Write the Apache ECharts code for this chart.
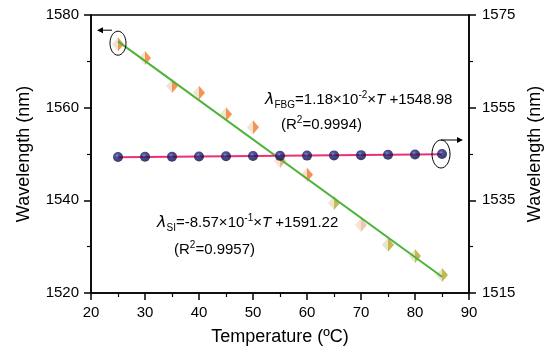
<!DOCTYPE html>
<html>
<head>
<meta charset="utf-8">
<script src="https://cdn.jsdelivr.net/npm/echarts@6/dist/echarts.min.js"></script>
<style>html,body{margin:0;padding:0;background:#fff}#c{width:550px;height:355px}</style>
</head>
<body>
<div id="c"></div>
<script>
// ---- data ----
var temps = [25, 30, 35, 40, 45, 50, 55, 60, 65, 70, 75, 80, 85];
// SI wavelengths (left axis, nm)
var siValues = [1573.7, 1570.7, 1564.7, 1563.2, 1558.6, 1555.8, 1548.5, 1545.5, 1539.4, 1534.7, 1530.4, 1528.0, 1523.9];
// FBG wavelengths (right axis, nm)
var fbgValues = [1544.35, 1544.4, 1544.4, 1544.45, 1544.5, 1544.55, 1544.6, 1544.65, 1544.7, 1544.75, 1544.85, 1544.9, 1545.0];
// fitted lines (endpoints)
var fitTemps = [25, 85];
var siFit = [1574.3, 1523.5];
var fbgFit = [1544.3, 1544.95];
// tick labels
var xTicks = [20, 30, 40, 50, 60, 70, 80, 90];
var leftTicks = [1520, 1540, 1560, 1580];
var rightTicks = [1515, 1535, 1555, 1575];
var rightMinor = [1525, 1545, 1565];

// ---- styles ----
var FONT = 'Liberation Sans, Arial, sans-serif';
var rightColors = ['#f47b28','#f47b28','#f47b28','#f47b28','#f47b28','#f47b28','#eea46a','#f07030','#b8a838','#efb89a','#b5a52c','#b5a52c','#b5a52c'];
var leftColors = ['#eadfc8','#eadfc8','#eadfc8','#eadfc8','#eadfc8','#eadfc8','#f6dccb','#f3d7c4','#e6e0c0','#f7d9cc','#e4dec0','#e4dec0','#e4dec0'];

function pairs(xs, ys) { return xs.map(function (x, i) { return [x, ys[i]]; }); }
function plain(v) { return String(v); }

var ballGradient = new echarts.graphic.RadialGradient(0.4, 0.35, 0.65, [
  {offset: 0, color: '#6a70c8'},
  {offset: 0.3, color: '#22267a'},
  {offset: 1, color: '#0a0a3a'}
]);

var axisLine = {show: true, onZero: false, lineStyle: {color: '#000', width: 1.5}};
var labelStyle = {color: '#000', fontSize: 15, fontFamily: FONT, formatter: plain};
var nameStyle = {color: '#000', fontSize: 18, fontFamily: FONT};

var chart = echarts.init(document.getElementById('c'), null, {renderer: 'canvas'});
var option = {
  animation: false,
  backgroundColor: '#fff',
  grid: {left: 91, right: 81, top: 15, bottom: 62, show: true, borderColor: '#000', borderWidth: 1.5,
         containLabel: false, outerBoundsMode: 'none'},
  xAxis: {
    type: 'value', min: xTicks[0], max: xTicks[xTicks.length - 1], interval: 10,
    axisLine: axisLine,
    axisTick: {show: true, length: 7, lineStyle: {color: '#000', width: 1.5}},
    minorTick: {show: true, splitNumber: 2, length: 4, lineStyle: {color: '#000', width: 1.2}},
    splitLine: {show: false},
    axisLabel: Object.assign({margin: 12}, labelStyle),
    name: 'Temperature (\u00BAC)', nameLocation: 'middle', nameGap: 35,
    nameTextStyle: nameStyle
  },
  yAxis: [
    {
      type: 'value', position: 'left', min: leftTicks[0], max: leftTicks[leftTicks.length - 1], interval: 20,
      axisLine: axisLine,
      axisTick: {show: true, length: 7, lineStyle: {color: '#000', width: 1.5}},
      minorTick: {show: true, splitNumber: 2, length: 4, lineStyle: {color: '#000', width: 1.2}},
      splitLine: {show: false},
      axisLabel: Object.assign({margin: 12}, labelStyle),
      name: 'Wavelength (nm)', nameLocation: 'middle', nameGap: 58, nameTextStyle: nameStyle
    },
    {
      type: 'value', position: 'right', min: rightTicks[0], max: rightTicks[rightTicks.length - 1],
      axisLine: axisLine,
      axisTick: {show: true, length: 7, customValues: rightTicks, lineStyle: {color: '#000', width: 1.5}},
      splitLine: {show: false},
      axisLabel: Object.assign({margin: 13, customValues: rightTicks}, labelStyle),
      name: 'Wavelength (nm)', nameLocation: 'middle', nameGap: 54, nameTextStyle: nameStyle
    },
    {
      type: 'value', position: 'right', offset: 0, min: rightTicks[0], max: rightTicks[rightTicks.length - 1],
      axisLine: {show: true, onZero: false, lineStyle: {color: 'rgba(0,0,0,0)', width: 1}},
      axisTick: {show: true, length: 4, customValues: rightMinor, lineStyle: {color: '#000', width: 1.2}},
      axisLabel: {show: true, customValues: rightMinor, formatter: function () { return ''; }},
      splitLine: {show: false}
    }
  ],
  series: [
    {
      type: 'scatter', yAxisIndex: 0, z: 2,
      symbol: 'path://M0,0 L0,2 L-1,1 Z', symbolSize: [6, 14], symbolOffset: [-3, 0],
      itemStyle: {color: function (p) { return leftColors[p.dataIndex]; }},
      data: pairs(temps, siValues)
    },
    {
      type: 'scatter', yAxisIndex: 0, z: 2,
      symbol: 'path://M0,0 L0,2 L1,1 Z', symbolSize: [6, 14], symbolOffset: [3, 0],
      itemStyle: {color: function (p) { return rightColors[p.dataIndex]; }},
      data: pairs(temps, siValues)
    },
    {
      type: 'line', yAxisIndex: 0, z: 3, symbol: 'none',
      lineStyle: {color: '#4db33a', width: 2},
      data: pairs(fitTemps, siFit)
    },
    {
      type: 'line', yAxisIndex: 1, z: 3, symbol: 'none',
      lineStyle: {color: '#ec2f74', width: 2},
      data: pairs(fitTemps, fbgFit)
    },
    {
      type: 'scatter', yAxisIndex: 1, z: 4,
      symbol: 'circle', symbolSize: 10,
      itemStyle: {color: ballGradient},
      data: pairs(temps, fbgValues)
    }
  ]
};
chart.setOption(option);

// ---- annotations ----
var rich = {
  n: {fontSize: 15, fontFamily: FONT, lineHeight: 20, color: '#000'},
  l: {fontSize: 16, fontFamily: 'DejaVu Sans, ' + FONT, fontStyle: 'italic', lineHeight: 20, color: '#000'},
  i: {fontSize: 15, fontFamily: FONT, fontStyle: 'italic', lineHeight: 20, color: '#000'},
  s: {fontSize: 10, fontFamily: FONT, lineHeight: 10, verticalAlign: 'bottom', color: '#000'},
  p: {fontSize: 10, fontFamily: FONT, lineHeight: 10, verticalAlign: 'top', color: '#000'}
};
function txt(x, y, t) {
  return {type: 'text', x: x, y: y, z: 10, style: {text: t, rich: rich, verticalAlign: 'top', align: 'left'}};
}
var siPt = chart.convertToPixel({xAxisIndex: 0, yAxisIndex: 0}, [temps[0], siValues[0]]);
var fbgPt = chart.convertToPixel({xAxisIndex: 0, yAxisIndex: 1}, [temps[temps.length - 1], fbgValues[fbgValues.length - 1]]);
var ls = {stroke: '#000', lineWidth: 1, fill: null};
chart.setOption({
  graphic: [
    txt(265, 90, '{l|\u03BB}{s|FBG}{n|=1.18\u00D710}{p|-2}{n|\u00D7}{i|T}{n| +1548.98}'),
    txt(281, 115, '{n|(R}{p|2}{n|=0.9994)}'),
    txt(157, 213, '{l|\u03BB}{s|SI}{n|=-8.57\u00D710}{p|-1}{n|\u00D7}{i|T}{n| +1591.22}'),
    txt(174, 240, '{n|(R}{p|2}{n|=0.9957)}'),
    {type: 'ellipse', z: 10, shape: {cx: siPt[0], cy: siPt[1] - 1, rx: 8, ry: 12}, style: ls},
    {type: 'line', z: 10, shape: {x1: siPt[0] - 6, y1: siPt[1] - 14, x2: siPt[0] - 17, y2: siPt[1] - 14}, style: {stroke: '#000', lineWidth: 1}},
    {type: 'polygon', z: 10, shape: {points: [[siPt[0] - 21, siPt[1] - 14], [siPt[0] - 15, siPt[1] - 17], [siPt[0] - 15, siPt[1] - 11]]}, style: {fill: '#000'}},
    {type: 'ellipse', z: 10, shape: {cx: fbgPt[0] - 1, cy: fbgPt[1], rx: 9, ry: 14}, style: ls},
    {type: 'line', z: 10, shape: {x1: fbgPt[0] - 1, y1: fbgPt[1] - 14, x2: fbgPt[0] + 16, y2: fbgPt[1] - 14}, style: {stroke: '#000', lineWidth: 1}},
    {type: 'polygon', z: 10, shape: {points: [[fbgPt[0] + 21, fbgPt[1] - 14], [fbgPt[0] + 15, fbgPt[1] - 17], [fbgPt[0] + 15, fbgPt[1] - 11]]}, style: {fill: '#000'}}
  ]
});
</script>
</body>
</html>
